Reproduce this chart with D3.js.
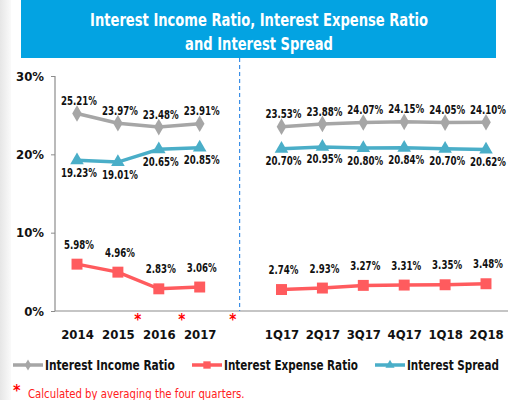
<!DOCTYPE html>
<html>
<head>
<meta charset="utf-8">
<script src="https://cdn.jsdelivr.net/npm/d3@7"></script>
<style>
  body { margin: 0; background: #fff; }
  svg text { font-family: "DejaVu Sans Condensed", "DejaVu Sans", sans-serif; }
</style>
</head>
<body>
<div id="chart"></div>
<script>
// chart values
var years = ["2014", "2015", "2016", "2017"];
var quarters = ["1Q17", "2Q17", "3Q17", "4Q17", "1Q18", "2Q18"];
var starred = ["2015", "2016", "2017"];

var incomeYears = [25.21, 23.97, 23.48, 23.91];
var incomeQuarters = [23.53, 23.88, 24.07, 24.15, 24.05, 24.10];
var expenseYears = [5.98, 4.96, 2.83, 3.06];
var expenseQuarters = [2.74, 2.93, 3.27, 3.31, 3.35, 3.48];
var spreadYears = [19.23, 19.01, 20.65, 20.85];
var spreadQuarters = [20.70, 20.95, 20.80, 20.84, 20.70, 20.62];

var yTicks = [0, 10, 20, 30];
var seriesNames = ["Interest Income Ratio", "Interest Expense Ratio", "Interest Spread"];

var W = 513, H = 400;
var svg = d3.select("#chart").append("svg")
    .attr("width", W)
    .attr("height", H);

// squeeze a text horizontally to a given width (the source font is narrow)
function fitText(sel, tx, ty, width) {
    sel.each(function(d, i) {
        var node = d3.select(this);
        var w = typeof width === "function" ? width(d, i) : width;
        var px = typeof tx === "function" ? tx(d, i) : tx;
        var py = typeof ty === "function" ? ty(d, i) : ty;
        var k = w / this.getComputedTextLength();
        node.attr("x", 0).attr("y", 0)
            .attr("transform", "translate(" + px + "," + py + ") scale(" + k + ",1)");
    });
}

// faint grey strip on the left edge
var grad = svg.append("defs").append("linearGradient").attr("id", "edge");
grad.append("stop").attr("offset", "0%").attr("stop-color", "#e6e6e6");
grad.append("stop").attr("offset", "100%").attr("stop-color", "#fafafa");
svg.append("rect").attr("x", 0).attr("y", 0).attr("width", 11).attr("height", H).attr("fill", "url(#edge)");

// title banner
svg.append("rect")
    .attr("x", 21).attr("y", 0).attr("width", 475).attr("height", 58)
    .attr("fill", "#03a3e2");
svg.append("text").attr("text-anchor", "middle")
    .attr("fill", "#fff").attr("font-size", 17).attr("font-weight", "bold")
    .text("Interest Income Ratio, Interest Expense Ratio")
    .call(fitText, 259, 26, 338);
svg.append("text").attr("text-anchor", "middle")
    .attr("fill", "#fff").attr("font-size", 17).attr("font-weight", "bold")
    .text("and Interest Spread")
    .call(fitText, 259, 50, 148);

// scales
var slots = years.concat(["gap"]).concat(quarters);
var x = d3.scalePoint().domain(slots).range([77, 486]);
var y = d3.scaleLinear().domain([0, 30]).range([311, 76]);

// axes
var yAxis = svg.append("g")
    .attr("transform", "translate(55,0)")
    .call(d3.axisLeft(y).tickValues(yTicks).tickSize(4).tickFormat(function(d) { return d + "%"; }));
yAxis.select(".domain").attr("stroke", "#8c8c8c").attr("stroke-width", 1.2).attr("d", "M0," + y(30) + "V" + y(0));
yAxis.selectAll(".tick line").attr("stroke", "#8c8c8c");
yAxis.selectAll(".tick text")
    .attr("x", -11).attr("font-size", 13).attr("font-weight", "bold").attr("fill", "#111")
    .style("font-family", "'DejaVu Sans Condensed', sans-serif");

var xAxis = svg.append("g")
    .attr("transform", "translate(0," + y(0) + ")")
    .call(d3.axisBottom(x).tickSize(0).tickFormat(function(d) { return d === "gap" ? "" : d; }));
xAxis.select(".domain").attr("stroke", "#8c8c8c").attr("stroke-width", 1.2).attr("d", "M55,0H508");
xAxis.selectAll(".tick text")
    .attr("y", 19).attr("font-size", 13).attr("font-weight", "bold").attr("fill", "#111")
    .style("font-family", "'DejaVu Sans Condensed', sans-serif");

// red stars after the annual labels
var starDx = {"2015": 20, "2016": 23, "2017": 33};
svg.selectAll(".star")
    .data(starred)
    .enter().append("text")
    .attr("class", "star")
    .attr("x", function(d) { return x(d) + starDx[d]; })
    .attr("y", 325)
    .attr("text-anchor", "middle")
    .attr("fill", "#ff0000")
    .attr("font-size", 15)
    .attr("font-weight", "bold")
    .text("*");

// divider between years and quarters
svg.append("line")
    .attr("x1", x("gap") - 1).attr("x2", x("gap") - 1)
    .attr("y1", 58).attr("y2", y(0))
    .attr("stroke", "#3a8ee6").attr("stroke-width", 1.2)
    .attr("stroke-dasharray", "4,3");

function toPoints(cats, vals) {
    return cats.map(function(c, i) { return {cat: c, v: vals[i]}; });
}

var series = [
    {name: seriesNames[0], color: "#a6a6a6", symbol: d3.symbolDiamond, size: 80, labelDy: -13, legendLen: 130,
     parts: [toPoints(years, incomeYears), toPoints(quarters, incomeQuarters)]},
    {name: seriesNames[1], color: "#ff5b5e", symbol: d3.symbolSquare, size: 120, labelDy: -20, legendLen: 134,
     parts: [toPoints(years, expenseYears), toPoints(quarters, expenseQuarters)]},
    {name: seriesNames[2], color: "#4aaec8", symbol: d3.symbolTriangle, size: 80, labelDy: 12, legendLen: 92,
     parts: [toPoints(years, spreadYears), toPoints(quarters, spreadQuarters)]}
];

var line = d3.line()
    .x(function(d) { return x(d.cat); })
    .y(function(d) { return y(d.v); });

series.forEach(function(s) {
    s.parts.forEach(function(part) {
        svg.append("path")
            .datum(part)
            .attr("d", line)
            .attr("fill", "none")
            .attr("stroke", s.color)
            .attr("stroke-width", 3.5);

        svg.selectAll(null)
            .data(part)
            .enter().append("path")
            .attr("transform", function(d) { return "translate(" + x(d.cat) + "," + y(d.v) + ")"; })
            .attr("d", d3.symbol().type(s.symbol).size(s.size))
            .attr("fill", s.color);

        svg.selectAll(null)
            .data(part)
            .enter().append("text")
            .attr("dy", "0.35em")
            .attr("text-anchor", "middle")
            .attr("font-size", 13)
            .attr("font-weight", "bold")
            .attr("fill", "#111")
            .text(function(d) { return d.v.toFixed(2) + "%"; })
            .call(fitText,
                function(d) { return x(d.cat) + 2; },
                function(d) { return y(d.v) + s.labelDy; },
                function(d) { return (d.v.toFixed(2) + "%").length * 6.0; });
    });
});

// legend
var legendX = [13, 192, 375];
var legend = svg.selectAll(".legend")
    .data(series)
    .enter().append("g")
    .attr("class", "legend")
    .attr("transform", function(d, i) { return "translate(" + legendX[i] + ",365)"; });
legend.append("line")
    .attr("x1", 0).attr("x2", 30)
    .attr("stroke", function(d) { return d.color; })
    .attr("stroke-width", 3.5);
legend.append("path")
    .attr("transform", "translate(15,0)")
    .attr("d", function(d) { return d3.symbol().type(d.symbol).size(d.size * 0.45)(); })
    .attr("fill", function(d) { return d.color; });
legend.append("text")
    .attr("dy", "0.35em")
    .attr("font-size", 14).attr("font-weight", "bold").attr("fill", "#111")
    .text(function(d) { return d.name; })
    .call(fitText, 32, 0, function(d) { return d.legendLen; });

// footnote
svg.append("text")
    .attr("x", 13).attr("y", 396)
    .attr("fill", "#ff0000").attr("font-size", 16).attr("font-weight", "bold")
    .text("*");
svg.append("text")
    .attr("fill", "#ff2020").attr("font-size", 13)
    .text("Calculated by averaging the four quarters.")
    .call(fitText, 28, 398, 217);
</script>
</body>
</html>
